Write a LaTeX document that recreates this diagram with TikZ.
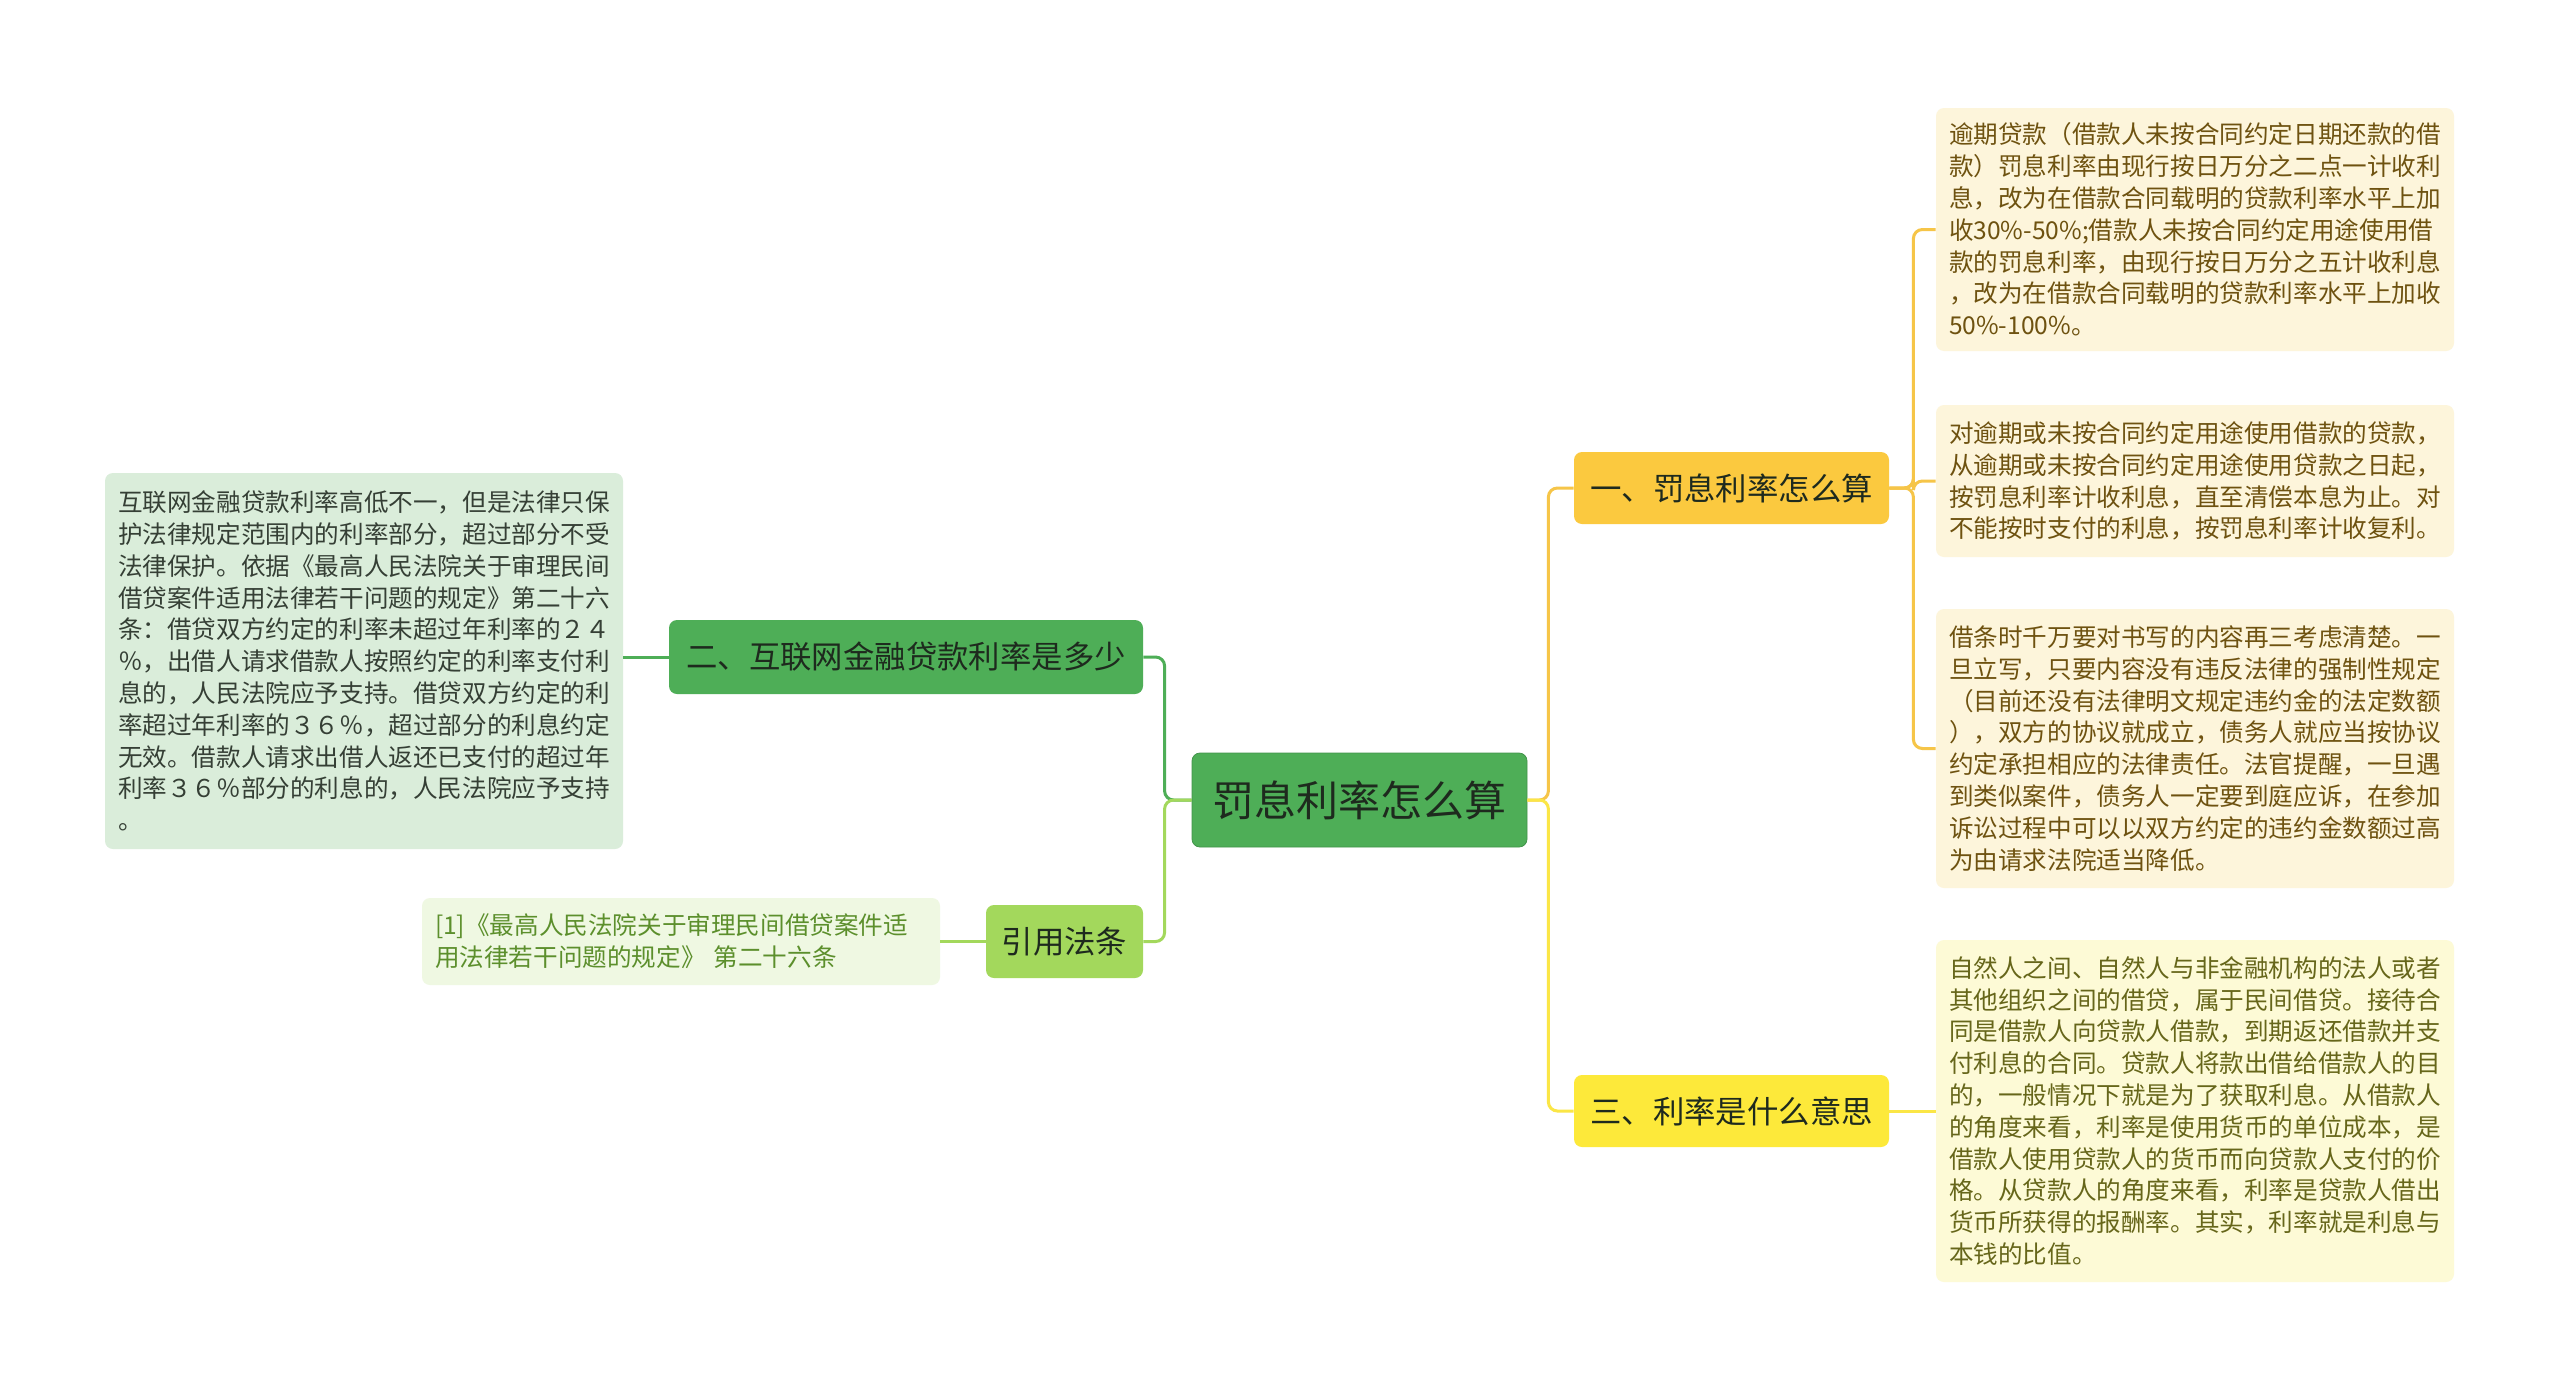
\documentclass[tikz,border=0pt]{standalone}
\usepackage{fontspec}
\setmainfont{Noto Sans CJK SC}
\begin{document}
\begin{tikzpicture}[x=0.5pt,y=-0.5pt,
  box/.style={rounded corners=4pt, inner sep=0pt, align=center},
  root/.style={box, fill=rootgreen, draw=rootgreen!85!black, line width=0.4pt, minimum width=167.5pt, minimum height=47pt, font=\fontsize{21pt}{24pt}\selectfont, text=darktxt},
  topic/.style={box, minimum width=157.5pt, minimum height=36pt, font=\fontsize{15.7pt}{18pt}\selectfont, text=darktxt},
  leaf/.style={rounded corners=4pt, inner xsep=6.5pt, inner ysep=0pt, text width=246pt, align=left, minimum height=#1, font=\fontsize{12.3pt}{15.9pt}\selectfont},
  conn/.style={line width=1.5pt, rounded corners=4.5pt}
]
\definecolor{rootgreen}{HTML}{4EAE57}
\definecolor{darktxt}{HTML}{1E2A1E}
\definecolor{orangefill}{HTML}{FBC93F}
\definecolor{yellowfill}{HTML}{FDE93A}
\definecolor{lightgreen}{HTML}{A3D85C}
\definecolor{orangeline}{HTML}{F6C548}
\definecolor{yellowline}{HTML}{FBE646}
\definecolor{leafcream}{HTML}{FDF5DB}
\definecolor{leafyellow}{HTML}{FDFAD6}
\definecolor{browntxt}{HTML}{6E5210}
\definecolor{olivetxt}{HTML}{66661A}
\definecolor{leafgreen}{HTML}{DAEDDA}
\definecolor{citefill}{HTML}{EFF8E2}
\definecolor{citetxt}{HTML}{5C8F2C}

\fill[white] (0,0) rectangle (2560,1387);
\useasboundingbox (0,0) rectangle (2560,1387);

% main nodes
\node[root] (root) at (1359.5,800) {罚息利率怎么算};
\node[topic, fill=orangefill] (t1) at (1731.5,488) {一、罚息利率怎么算};
\node[topic, fill=yellowfill] (t3) at (1731.5,1111) {三、利率是什么意思};
\node[topic, fill=rootgreen, minimum width=237pt, minimum height=37pt] (t2) at (906,657) {二、互联网金融贷款利率是多少};
\node[topic, fill=lightgreen, minimum width=78.5pt, minimum height=36.5pt] (tc) at (1064.5,941.5) {引用法条};

% right leaves
\node[leaf=121.5pt, fill=leafcream, text=browntxt] (l1) at (2195,229.5) {逾期贷款（借款人未按合同约定日期还款的借\\款）罚息利率由现行按日万分之二点一计收利\\息，改为在借款合同载明的贷款利率水平上加\\收30\%-50\%;借款人未按合同约定用途使用借\\款的罚息利率，由现行按日万分之五计收利息\\，改为在借款合同载明的贷款利率水平上加收\\50\%-100\%。};
\node[leaf=76pt, fill=leafcream, text=browntxt] (l2) at (2195,481) {对逾期或未按合同约定用途使用借款的贷款，\\从逾期或未按合同约定用途使用贷款之日起，\\按罚息利率计收利息，直至清偿本息为止。对\\不能按时支付的利息，按罚息利率计收复利。};
\node[leaf=139.5pt, fill=leafcream, text=browntxt] (l3) at (2195,748.5) {借条时千万要对书写的内容再三考虑清楚。一\\旦立写，只要内容没有违反法律的强制性规定\\（目前还没有法律明文规定违约金的法定数额\\），双方的协议就成立，债务人就应当按协议\\约定承担相应的法律责任。法官提醒，一旦遇\\到类似案件，债务人一定要到庭应诉，在参加\\诉讼过程中可以以双方约定的违约金数额过高\\为由请求法院适当降低。};
\node[leaf=171pt, fill=leafyellow, text=olivetxt] (l4) at (2195,1111) {自然人之间、自然人与非金融机构的法人或者\\其他组织之间的借贷，属于民间借贷。接待合\\同是借款人向贷款人借款，到期返还借款并支\\付利息的合同。贷款人将款出借给借款人的目\\的，一般情况下就是为了获取利息。从借款人\\的角度来看，利率是使用货币的单位成本，是\\借款人使用贷款人的货币而向贷款人支付的价\\格。从贷款人的角度来看，利率是贷款人借出\\货币所获得的报酬率。其实，利率就是利息与\\本钱的比值。};

% left leaves
\node[leaf=188pt, fill=leafgreen, text=darktxt!90] (ll) at (364,661) {互联网金融贷款利率高低不一，但是法律只保\\护法律规定范围内的利率部分，超过部分不受\\法律保护。依据《最高人民法院关于审理民间\\借贷案件适用法律若干问题的规定》第二十六\\条：借贷双方约定的利率未超过年利率的２４\\％，出借人请求借款人按照约定的利率支付利\\息的，人民法院应予支持。借贷双方约定的利\\率超过年利率的３６％，超过部分的利息约定\\无效。借款人请求出借人返还已支付的超过年\\利率３６％部分的利息的，人民法院应予支持\\。};
\node[leaf=43.5pt, fill=citefill, text=citetxt] (lc) at (681,941.5) {[1]《最高人民法院关于审理民间借贷案件适\\用法律若干问题的规定》 第二十六条};

% connectors
\draw[conn, rootgreen] (root.west) -- ++(-27,0) |- (t2.east);
\draw[conn, lightgreen] (root.west) -- ++(-27,0) |- (tc.east);
\draw[conn, rootgreen] (t2.west) -- (ll.east |- t2.west);
\draw[conn, lightgreen] (tc.west) -- (lc.east);
\draw[conn, orangeline] (root.east) -- ++(21,0) |- (t1.west);
\draw[conn, yellowline] (root.east) -- ++(21,0) |- (t3.west);
\draw[conn, orangeline] (t1.east) -- ++(24,0) |- (l1.west);
\draw[conn, orangeline] (t1.east) -- ++(24,0) |- (l2.west);
\draw[conn, orangeline] (t1.east) -- ++(24,0) |- (l3.west);
\draw[conn, yellowline] (t3.east) -- (l4.west);
\end{tikzpicture}
\end{document}
